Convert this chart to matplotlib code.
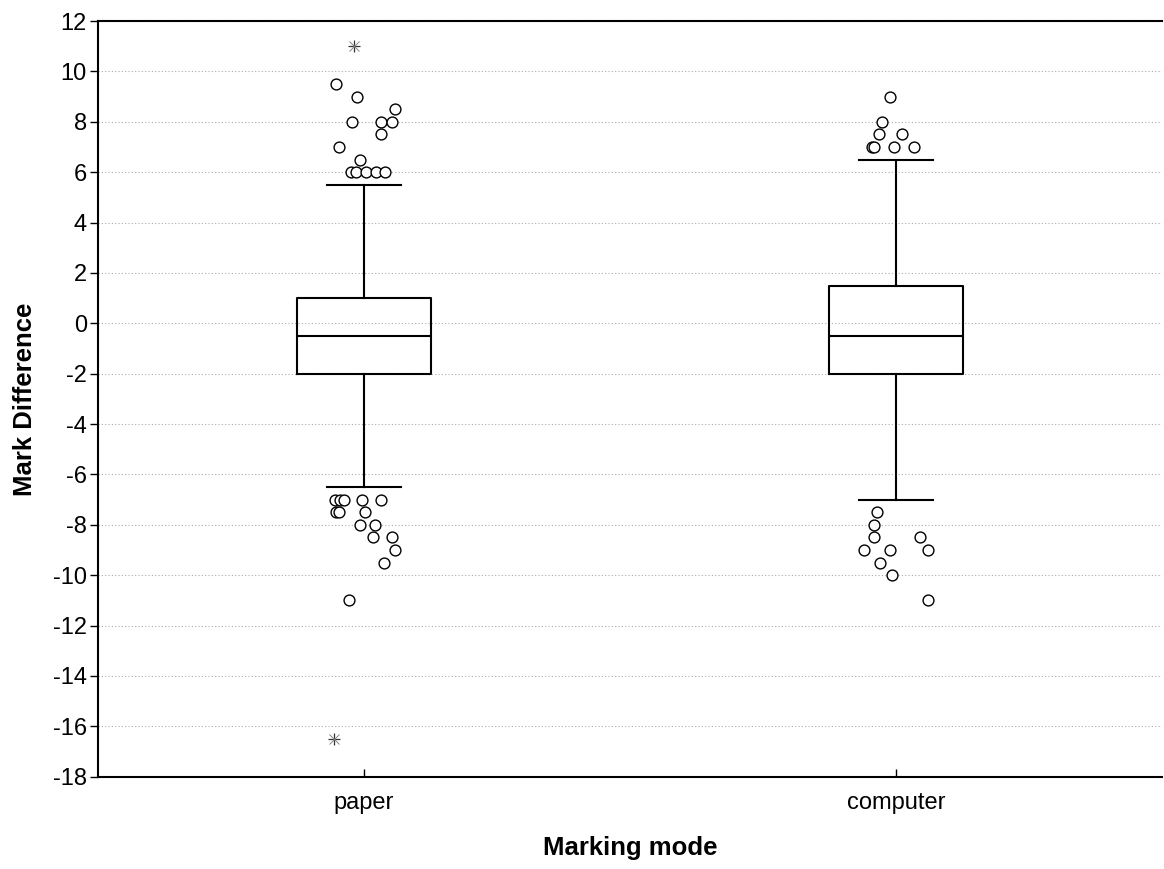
import matplotlib
matplotlib.use("Agg")
import matplotlib.pyplot as plt

plt.rcParams['font.family'] = ['Liberation Sans', 'DejaVu Sans']

categories = ["paper", "computer"]

# box statistics (quartiles, median, whisker ends)
q1 = [-2.0, -2.0]
med = [-0.5, -0.5]
q3 = [1.0, 1.5]
whislo = [-6.5, -7.0]
whishi = [5.5, 6.5]

# outliers: value and horizontal jitter (data units)
paper_out_y = [9.5, 9.0, 8.5, 8.0, 8.0, 8.0, 7.5, 7.0, 6.5, 6.0, 6.0, 6.0, 6.0, 6.0,
               -7.0, -7.0, -7.0, -7.0, -7.0, -7.5, -7.5, -7.5, -8.0, -8.0,
               -8.5, -8.5, -9.0, -9.5, -11.0]
paper_out_dx = [-0.052, -0.014, 0.058, -0.022, 0.031, 0.053, 0.031, -0.048, -0.007,
                -0.024, -0.015, 0.004, 0.023, 0.039,
                -0.054, -0.046, -0.037, -0.003, 0.031, -0.052, -0.048, 0.001,
                -0.007, 0.020, 0.016, 0.053, 0.058, 0.037, -0.029]
computer_out_y = [9.0, 8.0, 7.5, 7.5, 7.0, 7.0, 7.0, 7.0,
                  -7.5, -8.0, -8.5, -8.5, -9.0, -9.0, -9.0, -9.5, -10.0, -11.0]
computer_out_dx = [-0.012, -0.026, -0.032, 0.011, -0.045, -0.041, -0.004, 0.033,
                   -0.035, -0.042, -0.042, 0.045, -0.060, -0.011, 0.060,
                   -0.030, -0.008, 0.060]

# extreme values
extreme_x = [0, 0]
extreme_dx = [-0.019, -0.057]
extreme_y = [11.0, -16.5]

yticks = list(range(-18, 13, 2))

stats = []
for i in range(2):
    stats.append({"label": categories[i], "q1": q1[i], "med": med[i], "q3": q3[i],
                  "whislo": whislo[i], "whishi": whishi[i], "fliers": []})

fig = plt.figure(figsize=(11.64, 8.69), dpi=100)
ax = fig.add_axes([0.0842, 0.1062, 0.9142, 0.8696])

ax.bxp(stats, positions=[0, 1], widths=0.253, capwidths=0.139, showfliers=False,
       boxprops=dict(color="black", linewidth=1.5),
       medianprops=dict(color="black", linewidth=1.5),
       whiskerprops=dict(color="black", linewidth=1.5),
       capprops=dict(color="black", linewidth=1.5))

ax.plot([0 + d for d in paper_out_dx], paper_out_y, "o", ms=7.8,
        mfc="white", mec="black", mew=1.0, zorder=3)
ax.plot([1 + d for d in computer_out_dx], computer_out_y, "o", ms=7.8,
        mfc="white", mec="black", mew=1.0, zorder=3)
ex = [extreme_x[i] + extreme_dx[i] for i in range(2)]
ax.plot(ex, extreme_y, "+", ms=8, color="#333333", mew=0.9, zorder=3, linestyle="none")
ax.plot(ex, extreme_y, "x", ms=7, color="#888888", mew=0.7, zorder=3, linestyle="none")

ax.set_xlim(-0.5, 1.5)
ax.set_ylim(-18, 12)
ax.set_yticks(yticks)
ax.set_yticklabels([str(v) for v in yticks])
ax.set_xticks([0, 1])
ax.set_xticklabels(categories)
ax.yaxis.grid(True, linestyle=(0, (1, 2)), color="#aaaaaa", linewidth=0.8)
ax.set_axisbelow(True)

ax.spines["right"].set_visible(False)
for s in ["left", "bottom", "top"]:
    ax.spines[s].set_linewidth(1.5)

ax.tick_params(axis="y", direction="out", length=6, width=1, labelsize=17, pad=2)
ax.tick_params(axis="x", direction="in", length=6, width=1, labelsize=17, pad=11)

ax.set_ylabel("Mark Difference", fontsize=18.5, fontweight="bold", labelpad=11)
ax.set_xlabel("Marking mode", fontsize=18.5, fontweight="bold", labelpad=16)

fig.savefig("out.png", dpi=100)
